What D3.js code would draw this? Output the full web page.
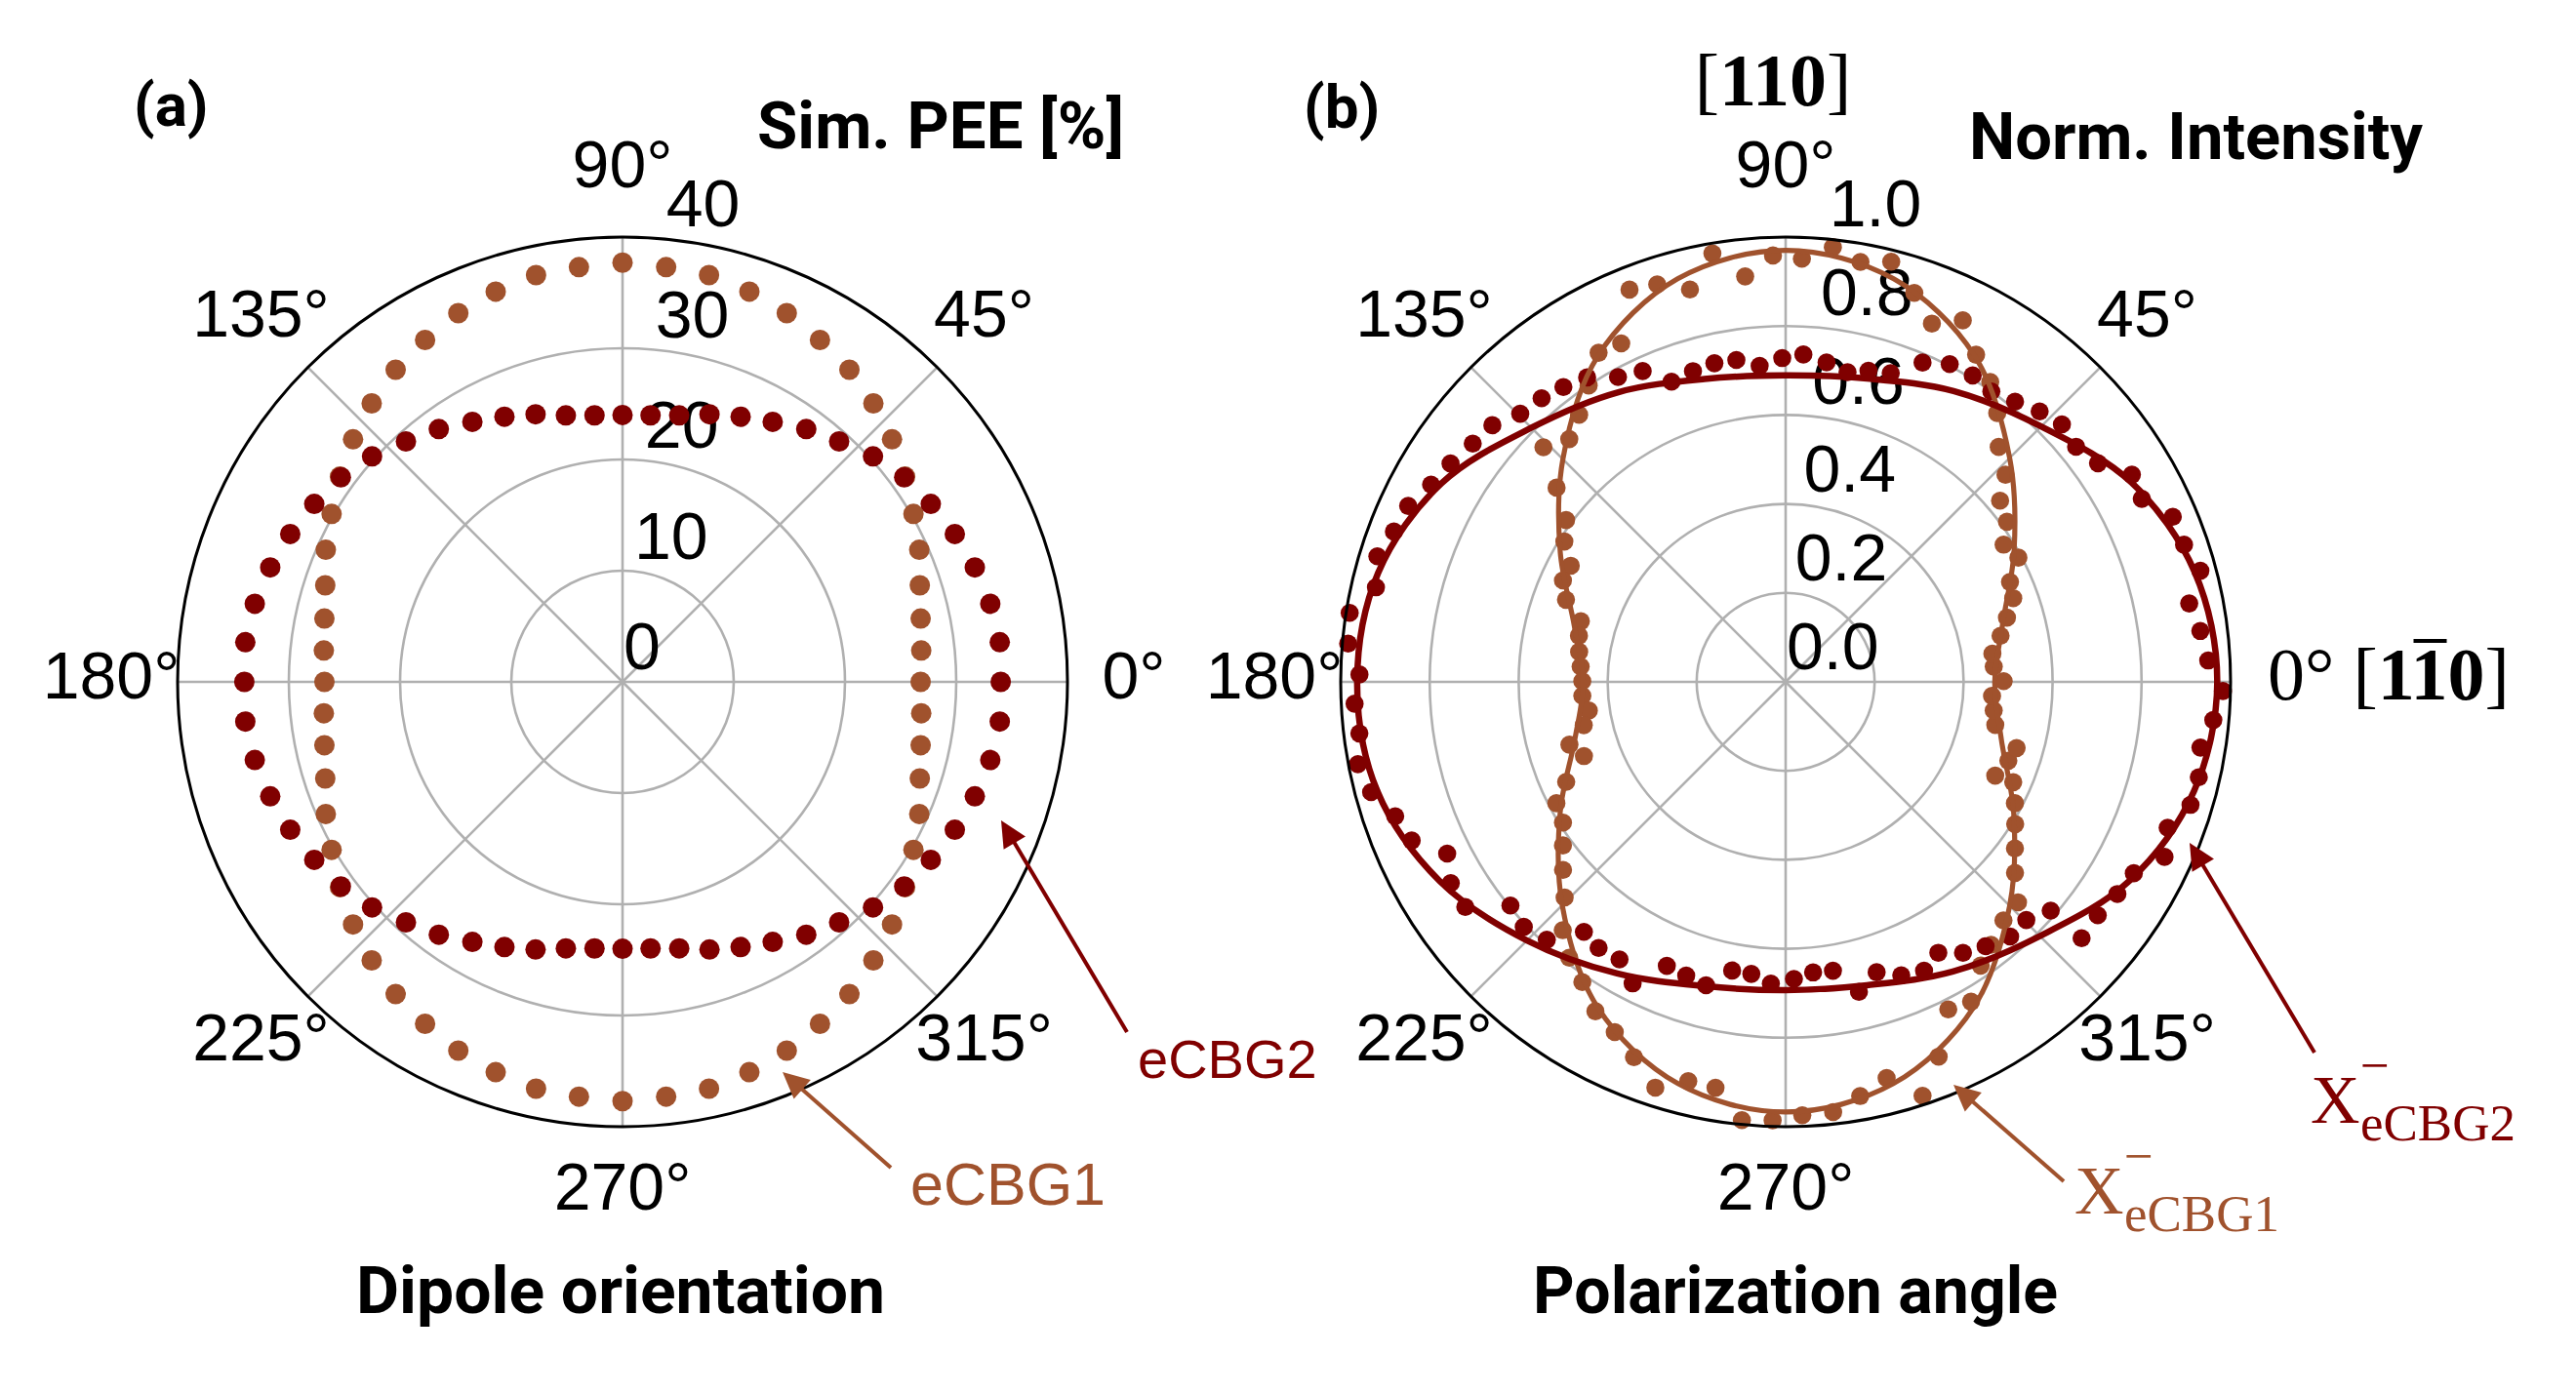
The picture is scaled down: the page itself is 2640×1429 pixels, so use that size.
<!DOCTYPE html>
<html>
<head>
<meta charset="utf-8">
<script src="https://cdn.jsdelivr.net/npm/d3@7"></script>
<style>body{margin:0;background:#fff}</style>
</head>
<body>
<div id="viz"></div>
<script>
// ---- panel (a): simulated PEE vs dipole orientation, every 6 deg
const angA = [0,6,12,18,24,30,36,42,48,54,60,66,72,78,84,90,96,102,108,114,120,126,132,138,144,150,156,162,168,174,
  180,186,192,198,204,210,216,222,228,234,240,246,252,258,264,270,276,282,288,294,300,306,312,318,324,330,336,342,348,354];
const peeCBG2 = [34.0,34.1,33.8,33.3,32.7,32.0,31.3,30.3,29.1,28.1,27.0,26.1,25.3,24.5,24.1,24.0,
  24.1,24.5,25.3,26.1,27.0,28.1,29.1,30.3,31.3,32.0,32.7,33.3,33.8,34.1,
  34.0,34.1,33.8,33.3,32.7,32.0,31.3,30.3,29.1,28.1,27.0,26.1,25.3,24.5,24.1,
  24.0,24.1,24.5,25.3,26.1,27.0,28.1,29.1,30.3,31.3,32.0,32.7,33.3,33.8,34.1];
const peeCBG1 = [26.8,27.0,27.4,28.1,29.2,30.2,31.4,32.6,33.7,34.7,35.5,36.3,36.9,37.4,37.5,37.7,
  37.5,37.4,36.9,36.3,35.5,34.7,33.7,32.6,31.4,30.2,29.2,28.1,27.4,27.0,
  26.8,27.0,27.4,28.1,29.2,30.2,31.4,32.6,33.7,34.7,35.5,36.3,36.9,37.4,37.5,
  37.7,37.5,37.4,36.9,36.3,35.5,34.7,33.7,32.6,31.4,30.2,29.2,28.1,27.4,27.0];

// ---- panel (b): measured normalized intensity vs polarization angle
const angX2 = [2.9,7.0,11.0,15.0,19.0,23.1,27.2,30.9,35.0,39.0,43.0,46.8,50.7,54.7,58.6,62.7,66.8,71.2,75.1,78.7,82.7,86.9,
  90.6,94.7,98.7,102.6,106.6,110.8,114.7,118.8,123.1,127.0,130.7,134.7,138.8,142.7,146.9,150.9,155.0,159.0,162.9,167.0,171.0,175.0,179.0,
  182.9,186.9,190.9,194.9,199.0,203.0,206.9,211.0,215.1,219.1,223.1,227.2,231.1,234.9,239.1,243.1,247.3,251.3,255.3,259.5,263.3,267.2,
  271.6,275.4,279.3,283.3,287.4,291.5,295.6,299.4,303.2,307.1,311.4,315.3,319.2,319.1,323.2,327.4,331.2,335.2,339.1,343.1,347.0,351.0,354.9,358.8];
const intX2 = [0.951,0.939,0.924,0.965,0.947,0.946,0.900,0.907,0.857,0.840,0.849,0.834,0.814,0.800,0.807,0.804,0.781,0.733,0.724,0.710,0.724,0.737,
  0.728,0.713,0.732,0.734,0.729,0.722,0.769,0.782,0.817,0.830,0.841,0.848,0.876,0.884,0.899,0.912,0.936,0.943,0.960,0.945,0.992,0.987,0.958,
  0.970,0.965,0.979,0.964,0.928,0.913,0.853,0.878,0.880,0.797,0.806,0.790,0.722,0.731,0.727,0.760,0.692,0.697,0.705,0.660,0.661,0.679,
  0.668,0.656,0.658,0.716,0.684,0.709,0.720,0.699,0.728,0.745,0.763,0.761,0.787,0.880,0.876,0.885,0.893,0.938,0.919,0.951,0.953,0.944,0.965,0.983];
const angX1 = [0.2,4.2,7.8,12.1,16.2,20.2,24.0,28.1,32.2,35.9,40.2,43.3,47.8,51.8,55.7,59.8,63.9,67.8,71.7,75.9,79.9,83.8,87.8,
  91.7,95.7,99.7,103.7,107.9,111.7,115.9,119.6,123.6,127.7,131.7,135.9,139.7,143.6,147.6,151.6,155.5,159.5,163.5,167.4,171.7,175.7,179.8,
  183.9,188.3,192.1,196.2,200.2,204.5,207.9,212.3,216.3,220.2,224.3,228.1,231.9,235.9,240.0,244.0,248.0,252.2,256.3,260.2,264.3,268.3,
  272.2,276.3,280.2,284.3,288.3,292.2,296.4,300.1,304.5,308.0,312.4,316.5,320.2,324.0,328.2,332.1,336.2,335.9,340.5,344.0,348.4,352.2,356.1];
const intX1 = [0.490,0.469,0.469,0.494,0.518,0.545,0.552,0.593,0.579,0.614,0.631,0.679,0.713,0.769,0.816,0.851,0.905,0.870,0.921,0.974,0.959,0.983,0.952,
  0.959,0.916,0.977,0.908,0.939,0.949,0.846,0.851,0.800,0.759,0.731,0.758,0.675,0.613,0.589,0.549,0.550,0.527,0.480,0.476,0.469,0.462,0.457,
  0.458,0.447,0.464,0.506,0.483,0.542,0.583,0.592,0.621,0.655,0.694,0.750,0.788,0.815,0.855,0.876,0.910,0.958,0.924,0.926,0.990,0.986,
  0.975,0.973,0.946,0.919,0.980,0.910,0.822,0.831,0.774,0.750,0.726,0.720,0.671,0.637,0.607,0.583,0.559,0.516,0.531,0.540,0.481,0.472,0.465];

// fitted curves, read every 15 deg
const fitAng = [0,15,30,45,60,75,90,105,120,135,150,165,180,195,210,225,240,255,270,285,300,315,330,345];
const fitX2 = [0.970,0.952,0.897,0.812,0.755,0.706,0.689,0.705,0.752,0.808,0.893,0.948,0.963,0.950,0.897,0.822,0.757,0.708,0.693,0.706,0.752,0.808,0.893,0.950];
const fitX1 = [0.470,0.505,0.593,0.712,0.848,0.938,0.970,0.938,0.845,0.708,0.585,0.492,0.455,0.490,0.585,0.710,0.845,0.935,0.967,0.935,0.845,0.712,0.592,0.502];

// axes ticks
const thetaTicks = [0,45,90,135,180,225,270,315];
const ringsA = [0,10,20,30,40];
const ringsB = [0,0.2,0.4,0.6,0.8,1.0];

const MAROON = "#800000", SIENNA = "#a0522d", GRID = "#b0b0b0";
const SANS = "'Liberation Sans', Arial, sans-serif";
const SERIF = "'Liberation Serif', 'Times New Roman', serif";
const BOLD = "Roboto, 'Liberation Sans', sans-serif";

function draw() {
	let width = 2640, height = 1429;
	let R = 456, cy = 699;

	let svg = d3.select("#viz").append("svg")
		.attr("width", width).attr("height", height)
		.attr("viewBox", "0 0 " + width + " " + height);
	svg.append("rect").attr("width", width).attr("height", height).style("fill", "#fff");

	let ang = d3.scaleLinear().domain([0, 360]).range([0, 2 * Math.PI]);

	function panel(cx, rMax, rings, fmt, dataSets, lines, dotR, zeroLabel) {
		let rs = d3.scaleLinear().domain([0, rMax]).range([0, R]);
		let pt = (a, v) => [cx + rs(v) * Math.cos(ang(a)), cy - rs(v) * Math.sin(ang(a))];
		let g = svg.append("g");

		// grid
		g.selectAll(null).data(rings.filter(d => d > 0 && d < rMax)).join("circle")
			.attr("cx", cx).attr("cy", cy).attr("r", d => rs(d))
			.attr("fill", "none").attr("stroke", GRID).attr("stroke-width", 2.6);
		g.selectAll(null).data(thetaTicks).join("line")
			.attr("x1", cx).attr("y1", cy)
			.attr("x2", d => pt(d, rMax)[0]).attr("y2", d => pt(d, rMax)[1])
			.attr("stroke", GRID).attr("stroke-width", 2.6);

		// radial tick labels
		g.selectAll(null).data(rings).join("text")
			.attr("x", d => pt(84.5, d)[0] + 1).attr("y", d => pt(84.5, d)[1] - 13)
			.text(fmt)
			.style("font-family", SANS).style("font-size", "68px").style("fill", "black");

		// data
		dataSets.forEach(s => {
			g.selectAll(null).data(s.a).join("circle")
				.attr("cx", (d, i) => pt(d, s.v[i])[0])
				.attr("cy", (d, i) => pt(d, s.v[i])[1])
				.attr("r", dotR).style("fill", s.color);
		});
		lines.forEach(s => {
			let line = d3.lineRadial()
				.angle((d, i) => Math.PI / 2 - ang(d))
				.radius((d, i) => rs(s.v[i]))
				.curve(d3.curveCatmullRomClosed);
			g.append("path").attr("d", line(s.a))
				.attr("transform", "translate(" + cx + "," + cy + ")")
				.attr("fill", "none").attr("stroke", s.color).attr("stroke-width", s.w);
		});

		// spine
		g.append("circle").attr("cx", cx).attr("cy", cy).attr("r", R)
			.attr("fill", "none").attr("stroke", "black").attr("stroke-width", 3);

		// angle labels
		g.selectAll(null).data(thetaTicks.filter(d => zeroLabel || d !== 0)).join("text")
			.attr("x", d => cx + 524 * Math.cos(ang(d)))
			.attr("y", d => cy - 524 * Math.sin(ang(d)) - 7 + 24)
			.attr("text-anchor", "middle")
			.text(d => d + "°")
			.style("font-family", SANS).style("font-size", "68px").style("fill", "black");
	}

	panel(638, 40, ringsA, d => d3.format("d")(d),
		[{a: angA, v: peeCBG1, color: SIENNA}, {a: angA, v: peeCBG2, color: MAROON}],
		[], 10.5, true);

	panel(1830, 1.0, ringsB, d => d3.format(".1f")(d),
		[{a: angX1, v: intX1, color: SIENNA}, {a: angX2, v: intX2, color: MAROON}],
		[{a: fitAng, v: fitX1, color: SIENNA, w: 5.2}, {a: fitAng, v: fitX2, color: MAROON, w: 6.5}],
		9.3, false);

	// titles
	function boldText(str, x, y, size, len, anchor) {
		let t = svg.append("text").text(str)
			.attr("x", x).attr("y", y)
			.attr("text-anchor", anchor || "start")
			.style("font-family", BOLD).style("font-weight", "bold")
			.style("font-size", size + "px").style("fill", "black");
		if (len) t.attr("textLength", len).attr("lengthAdjust", "spacingAndGlyphs");
		return t;
	}
	boldText("(a)", 137, 129, 62);
	boldText("(b)", 1336, 131, 62);
	boldText("Sim. PEE [%]", 776, 152, 66, 376);
	boldText("Norm. Intensity", 2018, 163, 66, 465);
	boldText("Dipole orientation", 636, 1346, 66, 542, "middle");
	boldText("Polarization angle", 1840, 1346, 66, 538, "middle");

	// crystal directions
	let t110 = svg.append("text").attr("x", 1817).attr("y", 108).attr("text-anchor", "middle")
		.style("font-family", SERIF).style("font-size", "76px").style("fill", "black");
	t110.append("tspan").text("[");
	t110.append("tspan").text("110").style("font-weight", "bold");
	t110.append("tspan").text("]");

	let t1b10 = svg.append("text").attr("x", 2324).attr("y", 717)
		.style("font-family", SERIF).style("font-size", "76px").style("fill", "black");
	t1b10.append("tspan").text("0° [");
	t1b10.append("tspan").text("110").style("font-weight", "bold");
	t1b10.append("tspan").text("]");
	let ext = t1b10.node().getExtentOfChar(5);
	svg.append("line")
		.attr("x1", ext.x + 3).attr("x2", ext.x + ext.width - 1)
		.attr("y1", 657).attr("y2", 657)
		.attr("stroke", "black").attr("stroke-width", 4);

	// series labels
	svg.append("text").text("eCBG2").attr("x", 1166).attr("y", 1105)
		.style("font-family", SANS).style("font-size", "56px").style("fill", MAROON);
	svg.append("text").text("eCBG1").attr("x", 933).attr("y", 1235)
		.style("font-family", SANS).style("font-size", "61px").style("fill", SIENNA);

	// X^-_sub labels: base letter, superscript minus and subscript kept apart
	function xLabel(x, y, sub, color) {
		svg.append("text").text("X").attr("x", x).attr("y", y)
			.style("font-family", SERIF).style("font-size", "70px").style("fill", color);
		svg.append("text").text("\u2212").attr("x", x + 51).attr("y", y - 41)
			.style("font-family", SERIF).style("font-size", "53px").style("fill", color);
		svg.append("text").text(sub).attr("x", x + 51).attr("y", y + 18)
			.style("font-family", SERIF).style("font-size", "53px").style("fill", color);
	}
	xLabel(2126, 1244, "eCBG1", SIENNA);
	xLabel(2368, 1151, "eCBG2", MAROON);

	// arrows
	function arrow(x1, y1, x2, y2, color) {
		let dx = x2 - x1, dy = y2 - y1, L = Math.sqrt(dx * dx + dy * dy);
		let ux = dx / L, uy = dy / L, hl = 27, hw = 13;
		let bx = x2 - ux * hl, by = y2 - uy * hl;
		svg.append("line").attr("x1", x1).attr("y1", y1).attr("x2", bx + ux * 2).attr("y2", by + uy * 2)
			.attr("stroke", color).attr("stroke-width", 4);
		svg.append("polygon")
			.attr("points", [[x2, y2], [bx - uy * hw, by + ux * hw], [bx + uy * hw, by - ux * hw]].map(p => p.join(",")).join(" "))
			.style("fill", color);
	}
	arrow(1155, 1058, 1026, 841, MAROON);
	arrow(913, 1197, 802, 1099, SIENNA);
	arrow(2372, 1079, 2244, 864, MAROON);
	arrow(2115, 1211, 2002, 1112, SIENNA);
}
draw();
</script>
</body>
</html>
